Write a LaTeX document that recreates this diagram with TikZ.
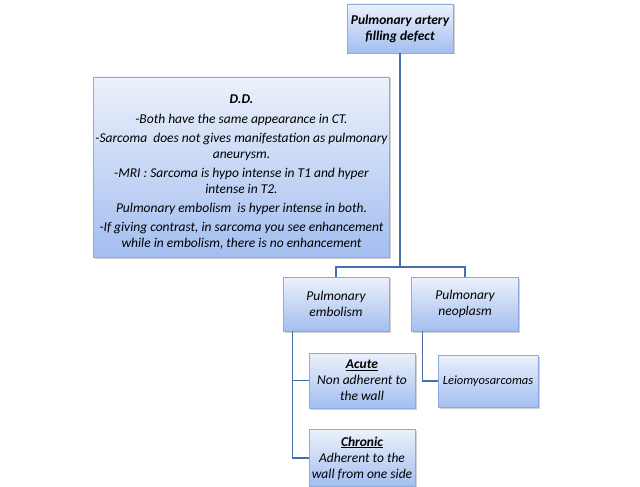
\documentclass[tikz,border=0pt]{standalone}
\usepackage{fontspec}
\setmainfont{Carlito}
\usepackage{tikz}
\usetikzlibrary{positioning, shadows}

\definecolor{boxtop}{RGB}{236,241,251}
\definecolor{boxbottom}{RGB}{163,190,240}
\definecolor{boxline}{RGB}{140,170,222}
\definecolor{linkline}{RGB}{70,110,170}

\tikzset{
  leaf/.style={rectangle, draw=boxline, line width=0.6pt, top color=boxtop, bottom color=boxbottom,
    drop shadow={shadow xshift=1.5pt, shadow yshift=-1.5pt, fill=black!35},
    align=center, font=\itshape\fontsize{13.5}{16}\selectfont, inner sep=2pt},
  link/.style={draw=linkline, line width=1.4pt}
}

\begin{document}
\begin{tikzpicture}[x=1pt, y=-1pt]
  \useasboundingbox (0,0) rectangle (640,487);

  % Nodo radice
  \node[leaf, minimum width=106pt, minimum height=49pt, font=\bfseries\itshape\fontsize{13.5}{16}\selectfont] (filling) at (400,28.5) {Pulmonary artery\\filling defect};

  % Diagnosi differenziale
  \node[leaf, minimum width=293pt, minimum height=180pt] (dd) at (241.5,167)
    {\rule{0pt}{19pt}\textbf{D.D.}\\[4pt]
     -Both have the same appearance in CT.\\[3pt]
     -Sarcoma\ \ does not gives manifestation as pulmonary\\ aneurysm.\\[3pt]
     -MRI : Sarcoma is hypo intense in T1 and hyper\\ intense in T2.\\[3pt]
     Pulmonary embolism\ \ is hyper intense in both.\\[3pt]
     -If giving contrast, in sarcoma you see enhancement\\ while in embolism, there is no enhancement};

  % Secondo livello
  \node[leaf, minimum width=106pt, minimum height=54pt] (embolism) at (336,304) {Pulmonary\\embolism};
  \node[leaf, minimum width=107pt, minimum height=54pt, right=22pt of embolism] (neoplasm) {Pulmonary\\neoplasm};

  % Terzo livello
  \node[leaf, minimum width=106pt, minimum height=55pt] (acute) at (362,380.5) {\underline{\textbf{Acute}}\\Non adherent to\\the wall};
  \node[leaf, minimum width=106pt, minimum height=57pt, below=21pt of acute] (chronic) {\underline{\textbf{Chronic}}\\Adherent to the\\wall from one side};
  \node[leaf, minimum width=100pt, minimum height=52pt, font=\itshape\fontsize{12.5}{15}\selectfont] (leio) at (488,381) {Leiomyosarcomas};

  % Connessioni
  \coordinate (split) at (400,267);
  \draw[link] (filling) -- (split);
  \draw[link] (split) -| (embolism);
  \draw[link] (split) -| (neoplasm);
  \draw[link] ([xshift=10pt]embolism.south west) |- (acute.west);
  \draw[link] ([xshift=10pt]embolism.south west) |- (chronic.west);
  \draw[link] ([xshift=11pt]neoplasm.south west) |- (leio.west);
\end{tikzpicture}
\end{document}
